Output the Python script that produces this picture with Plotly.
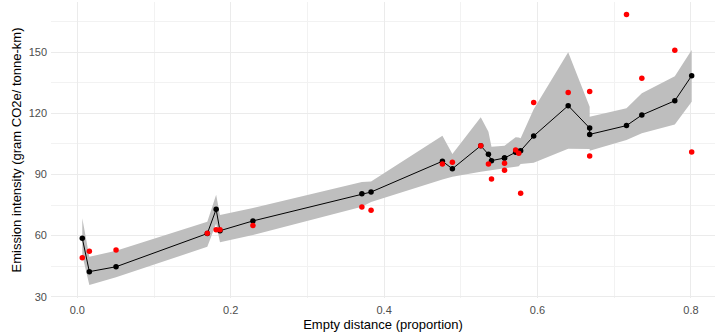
import plotly.graph_objects as go

# Data
empty_prop = [0.0065, 0.0157, 0.0505, 0.1695, 0.181, 0.186, 0.229, 0.371, 0.383,
              0.476, 0.489, 0.526, 0.536, 0.540, 0.557, 0.557, 0.5715, 0.5755, 0.578,
              0.595, 0.640, 0.668, 0.668, 0.716, 0.736, 0.779, 0.801]
observed = [49.1, 52.3, 52.9, 61.1, 62.9, 62.9, 65.0, 74.0, 72.4,
            95.1, 96.0, 104.1, 95.1, 87.8, 95.5, 92.1, 102.0, 100.4, 80.8,
            125.4, 130.3, 130.8, 99.1, 168.6, 137.2, 151.0, 101.0]
fitted = [58.7, 42.3, 44.7, 61.0, 72.9, 62.4, 67.2, 80.6, 81.4,
          96.5, 92.8, 104.1, 99.9, 96.8, 98.1, 98.1, 100.9, 101.3, 101.7,
          108.9, 123.8, 112.8, 109.7, 114.0, 119.2, 126.2, 138.5]
lower = [50.5, 35.7, 39.5, 54.5, 66.0, 56.7, 60.3, 74.2, 76.5,
         87.6, 88.9, 91.4, 91.9, 92.2, 93.0, 93.0, 93.8, 94.0, 95.1,
         95.8, 102.7, 102.5, 101.7, 106.9, 110.2, 114.6, 125.7]
upper = [68.5, 49.6, 52.5, 66.8, 80.0, 70.1, 73.5, 86.3, 86.6,
         109.0, 100.1, 118.1, 111.0, 103.6, 104.1, 104.1, 108.3, 108.2, 107.8,
         122.1, 150.0, 123.3, 118.4, 122.5, 129.9, 138.3, 151.1]

x_ticks = [0.0, 0.2, 0.4, 0.6, 0.8]
x_tick_labels = ["0.0", "0.2", "0.4", "0.6", "0.8"]
y_ticks = [30, 60, 90, 120, 150]
y_tick_labels = ["30", "60", "90", "120", "150"]

fig = go.Figure()

# Confidence ribbon
fig.add_trace(go.Scatter(
    x=empty_prop + empty_prop[::-1],
    y=upper + lower[::-1],
    fill="toself", fillcolor="#BEBEBE",
    line=dict(width=0), mode="lines", hoverinfo="skip", showlegend=False,
))

# Fitted line + points
fig.add_trace(go.Scatter(
    x=empty_prop, y=fitted, mode="lines+markers",
    line=dict(color="black", width=1),
    marker=dict(color="black", size=5.5),
    showlegend=False,
))

# Observed points
fig.add_trace(go.Scatter(
    x=empty_prop, y=observed, mode="markers",
    marker=dict(color="#FF0000", size=5.5),
    showlegend=False,
))

font_family = "Liberation Sans, Arial, sans-serif"

fig.update_layout(
    width=715, height=336,
    margin=dict(l=51, r=0, t=2, b=38),
    plot_bgcolor="white", paper_bgcolor="white",
    font=dict(family=font_family, color="#4D4D4D", size=11),
    showlegend=False,
    xaxis=dict(
        range=[-0.0343, 0.8314],
        tickmode="array", tickvals=x_ticks, ticktext=x_tick_labels,
        showgrid=True, gridcolor="#EBEBEB", gridwidth=1.1,
        minor=dict(showgrid=True, gridcolor="#F2F2F2", gridwidth=0.6, dtick=0.1, tick0=0),
        zeroline=False, showline=False, ticks="",
        tickfont=dict(size=11, color="#4D4D4D"),
        ticklabelstandoff=4,
        title=dict(text="Empty distance (proportion)", font=dict(size=13, color="black"),
                   standoff=4),
    ),
    yaxis=dict(
        range=[29.36, 174.7],
        tickmode="array", tickvals=y_ticks, ticktext=y_tick_labels,
        showgrid=True, gridcolor="#EBEBEB", gridwidth=1.1,
        minor=dict(showgrid=True, gridcolor="#F2F2F2", gridwidth=0.6, dtick=15, tick0=30),
        zeroline=False, showline=False, ticks="",
        tickfont=dict(size=11, color="#4D4D4D"),
        ticklabelstandoff=3,
        title=dict(text="Emission intensity (gram CO2e/ tonne-km)",
                   font=dict(size=13, color="black"), standoff=4),
    ),
)

fig.write_html("out.html")
